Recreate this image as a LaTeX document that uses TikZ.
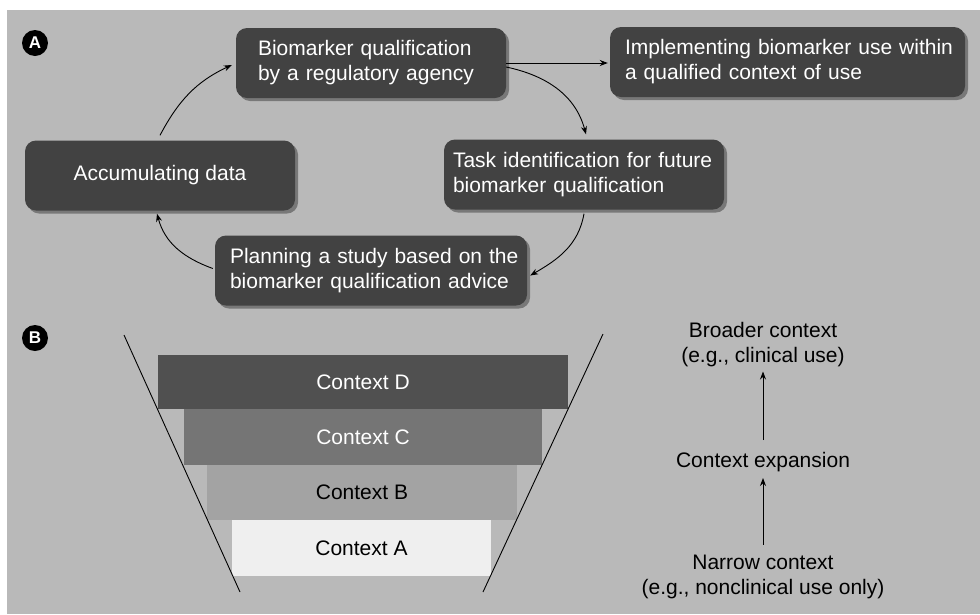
\documentclass[tikz,border=0pt]{standalone}
\usepackage{fontspec}
\setmainfont{Liberation Sans}
\usetikzlibrary{arrows.meta,shadows}
\definecolor{bgc}{HTML}{B9B9B9}
\definecolor{boxc}{HTML}{424242}
\definecolor{ctxD}{HTML}{505050}
\definecolor{ctxC}{HTML}{757575}
\definecolor{ctxB}{HTML}{A3A3A3}
\definecolor{ctxA}{HTML}{EFEFEF}
\begin{document}
\begin{tikzpicture}[x=1pt,y=1pt,
  font=\fontsize{21}{25}\selectfont,
  darkbox/.style={fill=boxc, rounded corners=11pt, text=white, align=left,
    minimum height=70pt, inner ysep=0pt,
    drop shadow={shadow xshift=3pt, shadow yshift=-3pt, opacity=0.35, fill=black}},
  bar/.style={minimum height=55pt, inner sep=0pt, draw=none},
  badge/.style={circle, fill=black, text=white, minimum size=26pt, inner sep=0pt,
    font=\fontsize{17}{17}\selectfont\bfseries},
  arr/.style={draw=black, line width=0.9pt, -{Stealth[length=8pt,width=6pt]}},
  funnel/.style={draw=black, line width=0.9pt},
  plain/.style={align=center, text=black, inner sep=0pt}]
\useasboundingbox (0,0) rectangle (980,-614);
\fill[white] (0,0) rectangle (980,-614);
\fill[bgc] (7,-10) rectangle (980,-614);

% Panel A
\node[badge] (badgeA) at (35,-43) {A};
\node[darkbox, minimum width=270pt, text width=226pt, inner xsep=22pt] (bio) at (371,-63)
  {\mbox{Biomarker qualification}\\\mbox{by a regulatory agency}};
\node[darkbox, minimum width=355pt, text width=325pt, inner xsep=15pt] (impl) at (787.5,-62)
  {\mbox{Implementing biomarker use within}\\\mbox{a qualified context of use}};
\node[darkbox, minimum width=270pt, align=center] (acc) at (160,-175.5)
  {Accumulating data};
\node[darkbox, minimum width=280pt, text width=262pt, inner xsep=9pt] (task) at (584,-174.5)
  {\mbox{Task identification for future}\\\mbox{biomarker qualification}};
\node[darkbox, minimum width=312pt, text width=282pt, inner xsep=15pt] (plan) at (371,-270.5)
  {\mbox{Planning a study based on the}\\\mbox{biomarker qualification advice}};

\draw[arr] ([yshift=5pt]acc.north) to[out=62,in=205] ([xshift=-4pt,yshift=-2pt]bio.west);
\draw[arr] (bio.east) -- ([xshift=-2pt]bio.east -| impl.west);
\draw[arr] ([yshift=-4pt]bio.east) to[out=-12,in=105] ([xshift=2pt,yshift=5pt]task.north);
\draw[arr] ([yshift=-4pt]task.south) to[out=-100,in=30] ([xshift=3pt,yshift=-5pt]plan.east);
\draw[arr] ([xshift=-2pt,yshift=2pt]plan.west) to[out=160,in=-75] ([xshift=-3pt,yshift=-3pt]acc.south);

% Panel B
\node[badge] (badgeB) at (35,-338) {B};
\node[bar, fill=ctxD, minimum width=410pt, minimum height=54pt, text=white] (cD) at (363,-382) {Context D};
\node[bar, fill=ctxC, minimum width=358pt, minimum height=56pt, text=white] (cC) at (363,-437) {Context C};
\node[bar, fill=ctxB, minimum width=310pt, minimum height=55pt, text=black] (cB) at (362,-492.5) {Context B};
\node[bar, fill=ctxA, minimum width=259pt, minimum height=56pt, text=black] (cA) at (361.5,-548) {Context A};

\coordinate (fl1) at (124,-335);
\coordinate (fl2) at (240,-592);
\coordinate (fr1) at (603,-334);
\coordinate (fr2) at (483,-592);
\draw[funnel] (fl1) -- (fl2);
\draw[funnel] (fr1) -- (fr2);

\node[plain] (broad) at (763,-345) {Broader context\\(e.g., clinical use)};
\node[plain] (expa) at (763,-462) {Context expansion};
\node[plain] (narrow) at (763,-577) {Narrow context\\(e.g., nonclinical use only)};
\draw[arr] ([yshift=12pt]expa.north) -- ([yshift=-4pt]broad.south);
\draw[arr] ([yshift=10pt]narrow.north) -- ([yshift=-6pt]expa.south);
\end{tikzpicture}
\end{document}
